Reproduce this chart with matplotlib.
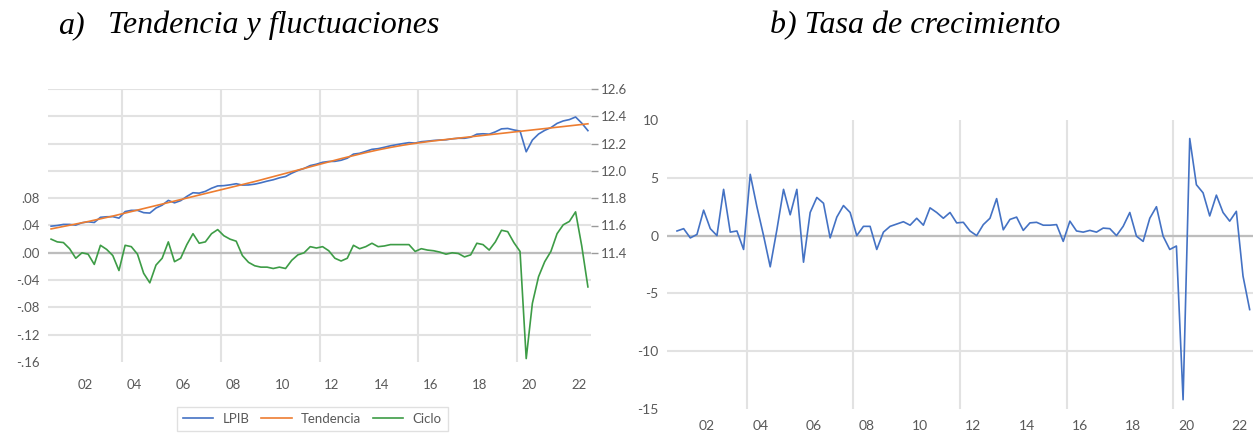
import numpy as np
import matplotlib
matplotlib.use('Agg')
import matplotlib.pyplot as plt

# quarterly data, 2001Q1 - 2022Q4
first_year = 2001
n_q = 88

lpib = [11.595, 11.600, 11.608, 11.608, 11.603, 11.620, 11.627, 11.622, 11.660, 11.664,
        11.665, 11.654, 11.702, 11.711, 11.711, 11.694, 11.691, 11.728, 11.749, 11.784,
        11.766, 11.782, 11.813, 11.840, 11.837, 11.850, 11.873, 11.890, 11.892, 11.898,
        11.906, 11.896, 11.897, 11.903, 11.913, 11.925, 11.935, 11.949, 11.959, 11.983,
        12.003, 12.018, 12.039, 12.049, 12.063, 12.069, 12.070, 12.078, 12.093, 12.123,
        12.129, 12.143, 12.158, 12.163, 12.173, 12.184, 12.192, 12.200, 12.207, 12.204,
        12.214, 12.218, 12.223, 12.226, 12.228, 12.235, 12.239, 12.239, 12.247, 12.269,
        12.272, 12.269, 12.286, 12.308, 12.311, 12.300, 12.292, 12.140, 12.226, 12.270,
        12.297, 12.317, 12.348, 12.366, 12.376, 12.395, 12.350, 12.295]

tendencia = [11.575, 11.584, 11.593, 11.602, 11.611, 11.620, 11.629, 11.639, 11.649, 11.659,
             11.669, 11.680, 11.691, 11.702, 11.713, 11.724, 11.735, 11.746, 11.757, 11.768,
             11.779, 11.790, 11.801, 11.812, 11.823, 11.834, 11.845, 11.856, 11.867, 11.878,
             11.889, 11.900, 11.911, 11.922, 11.934, 11.946, 11.958, 11.970, 11.982, 11.994,
             12.006, 12.018, 12.030, 12.042, 12.054, 12.066, 12.078, 12.090, 12.101, 12.112,
             12.123, 12.134, 12.144, 12.154, 12.163, 12.172, 12.180, 12.188, 12.195, 12.202,
             12.208, 12.214, 12.220, 12.225, 12.230, 12.235, 12.240, 12.245, 12.250, 12.255,
             12.260, 12.265, 12.270, 12.275, 12.280, 12.285, 12.290, 12.295, 12.300, 12.305,
             12.310, 12.315, 12.320, 12.325, 12.330, 12.335, 12.340, 12.345]

ciclo = [0.020, 0.016, 0.015, 0.006, -0.008, 0.000, -0.002, -0.017, 0.011, 0.005,
         -0.004, -0.026, 0.011, 0.009, -0.002, -0.030, -0.044, -0.018, -0.008, 0.016,
         -0.013, -0.008, 0.012, 0.028, 0.014, 0.016, 0.028, 0.034, 0.025, 0.020,
         0.017, -0.004, -0.014, -0.019, -0.021, -0.021, -0.023, -0.021, -0.023, -0.011,
         -0.003, 0.000, 0.009, 0.007, 0.009, 0.003, -0.008, -0.012, -0.008, 0.011,
         0.006, 0.009, 0.014, 0.009, 0.010, 0.012, 0.012, 0.012, 0.012, 0.002,
         0.006, 0.004, 0.003, 0.001, -0.002, 0.000, -0.001, -0.006, -0.003, 0.014,
         0.012, 0.004, 0.016, 0.033, 0.031, 0.015, 0.002, -0.155, -0.074, -0.035,
         -0.013, 0.002, 0.028, 0.041, 0.046, 0.060, 0.010, -0.050]

# growth rate, 2001Q2 - 2022Q4
crecimiento = [0.4, 0.6, -0.2, 0.1, 2.2, 0.6, 0.0, 4.0, 0.3, 0.4,
               -1.2, 5.3, 2.5, 0.0, -2.7, 0.5, 4.0, 1.8, 4.0, -2.3,
               2.0, 3.3, 2.8, -0.2, 1.6, 2.6, 2.0, 0.0, 0.8, 0.8,
               -1.2, 0.3, 0.8, 1.0, 1.2, 0.9, 1.5, 0.9, 2.4, 2.0,
               1.5, 2.0, 1.1, 1.15, 0.4, 0.0, 0.95, 1.5, 3.2, 0.5,
               1.4, 1.6, 0.45, 1.1, 1.15, 0.9, 0.9, 0.95, -0.5, 1.25,
               0.4, 0.3, 0.45, 0.3, 0.65, 0.6, 0.0, 0.8, 2.0, -0.05,
               -0.5, 1.5, 2.5, -0.05, -1.2, -0.9, -14.2, 8.4, 4.4, 3.7,
               1.7, 3.5, 2.0, 1.25, 2.1, -3.5, -6.4]

year_labels = ['02', '04', '06', '08', '10', '12', '14', '16', '18', '20', '22']
left_ticks = [-0.16, -0.12, -0.08, -0.04, 0.0, 0.04, 0.08, 0.12, 0.16, 0.20, 0.24]
left_labels = ['-.16', '-.12', '-.08', '-.04', '.00', '.04', '.08', '', '', '', '']
right_ticks = [11.4, 11.6, 11.8, 12.0, 12.2, 12.4, 12.6]
growth_ticks = [-15, -10, -5, 0, 5, 10]

t = first_year + (np.arange(n_q) + 0.5) / 4.0
label_pos = [2002.5 + 2 * i for i in range(len(year_labels))]
grid_pos = [2004, 2008, 2012, 2016, 2020]

BLUE = '#4472c4'
ORANGE = '#ed7d31'
GREEN = '#3d9c46'
GRID = '#e2e2e2'
ZERO = '#bdbdbd'
TXT = '#595959'

plt.rcParams['font.family'] = ['Lato', 'DejaVu Sans']

W, H = 1257, 433
fig = plt.figure(figsize=(12.57, 4.33), dpi=100)

###################### a) Tendencia y fluctuaciones ######################
ax = fig.add_axes([48 / W, 1 - 362 / H, 543 / W, 273 / H])
ax2 = ax.twinx()

ax.axhline(0, color=ZERO, lw=1.6, zorder=1)
l3, = ax.plot(t, ciclo, color=GREEN, lw=1.2, label='Ciclo', zorder=3)
l1, = ax2.plot(t, lpib, color=BLUE, lw=1.2, label='LPIB', zorder=3)
l2, = ax2.plot(t, tendencia, color=ORANGE, lw=1.2, label='Tendencia', zorder=3)

ax.set_xlim(2001, 2023)
ax.set_ylim(-0.16, 0.24)
ax2.set_ylim(10.6, 12.6)

ax.set_yticks(left_ticks)
ax.set_yticklabels(left_labels)
ax.grid(axis='y', color=GRID, lw=1.5)
ax.get_ygridlines()[0].set_visible(False)

ax.set_xticks(label_pos)
ax.set_xticklabels(year_labels)
ax.set_xticks(grid_pos, minor=True)
ax.grid(axis='x', which='minor', color=GRID, lw=1.5)
ax.set_axisbelow(True)

ax.tick_params(axis='both', which='both', length=0, labelcolor=TXT, labelsize=9.5)
ax.tick_params(axis='y', pad=6)
ax.tick_params(axis='x', pad=12)

ax2.set_yticks(right_ticks)
ax2.set_yticklabels(['%.1f' % v for v in right_ticks])
ax2.tick_params(axis='y', length=5, width=1.0, color='#9a9a9a', labelcolor=TXT,
                labelsize=9.5, pad=2)

for a in (ax, ax2):
    for s in a.spines.values():
        s.set_visible(False)

leg = fig.legend(handles=[l1, l2, l3], loc='upper left', bbox_to_anchor=(177 / W, 1 - 407 / H),
                 ncol=3, fontsize=9.5, frameon=True, fancybox=False, handlelength=2.3,
                 handletextpad=0.7, columnspacing=0.9, borderpad=0.45, borderaxespad=0)
leg.get_frame().set_edgecolor('#d9d9d9')
leg.get_frame().set_linewidth(1.0)
for txt in leg.get_texts():
    txt.set_color(TXT)

###################### b) Tasa de crecimiento ######################
axb = fig.add_axes([667 / W, 1 - 409 / H, 586 / W, 289 / H])
axb.axhline(0, color=ZERO, lw=1.6, zorder=1)
axb.plot(t[1:], crecimiento, color=BLUE, lw=1.2, zorder=3)

axb.set_xlim(2001, 2023)
axb.set_ylim(-15, 10)
axb.set_yticks(growth_ticks)
axb.set_yticklabels([str(v) for v in growth_ticks])
axb.grid(axis='y', color=GRID, lw=1.5)
gl = axb.get_ygridlines()
gl[0].set_visible(False)
gl[-1].set_visible(False)

axb.set_xticks(label_pos)
axb.set_xticklabels(year_labels)
axb.set_xticks(grid_pos, minor=True)
axb.grid(axis='x', which='minor', color=GRID, lw=1.5)
axb.set_axisbelow(True)
axb.tick_params(axis='both', which='both', length=0, labelcolor=TXT, labelsize=10)
axb.tick_params(axis='y', pad=6)
axb.tick_params(axis='x', pad=8)
for s in axb.spines.values():
    s.set_visible(False)

# titles
tfont = dict(family='Liberation Serif', style='italic', fontsize=23, va='baseline', color='black')
fig.text(58 / W, 1 - 33 / H, 'a)', **tfont)
fig.text(108 / W, 1 - 33 / H, 'Tendencia y fluctuaciones', **tfont)
fig.text(770 / W, 1 - 33 / H, 'b) Tasa de crecimiento', **tfont)

fig.savefig('out.png', dpi=100)
